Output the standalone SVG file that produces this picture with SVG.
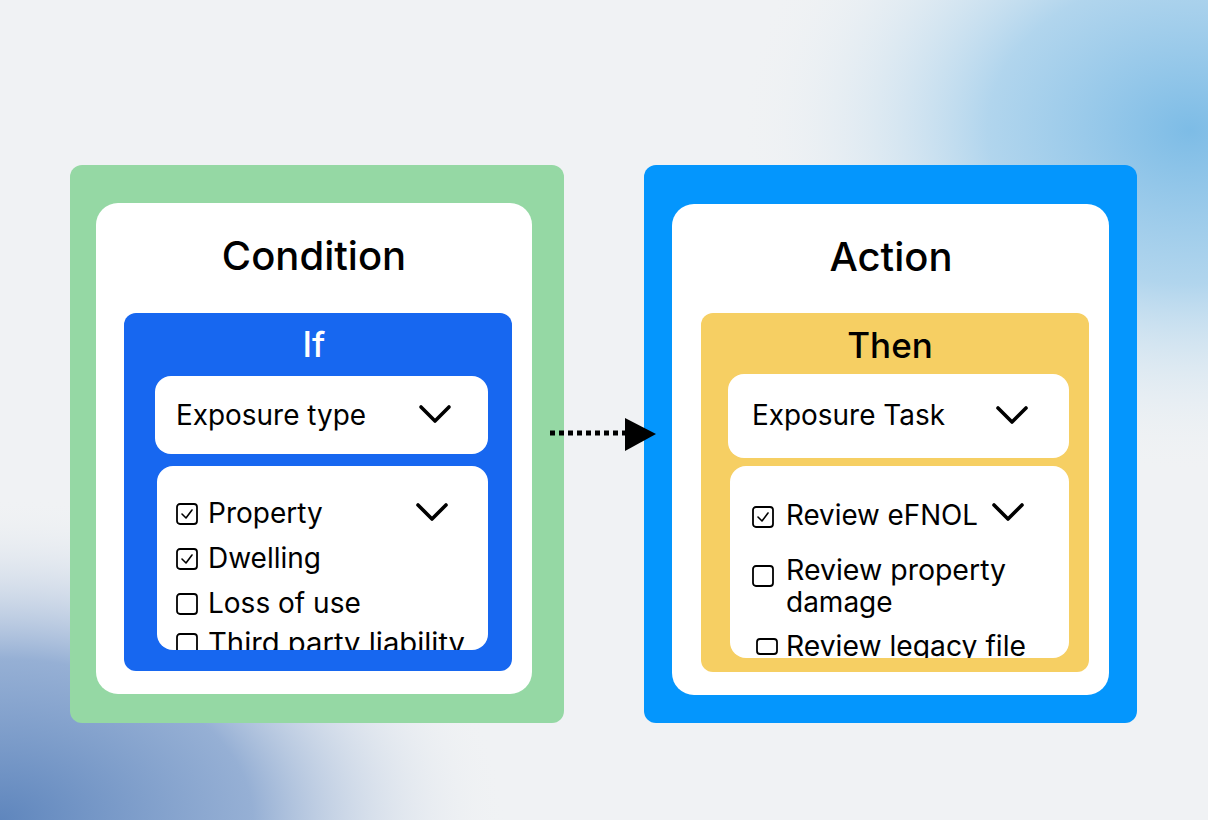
<svg xmlns="http://www.w3.org/2000/svg" width="1208" height="820" viewBox="0 0 1208 820">
<defs>
<radialGradient id="gTR" cx="1190" cy="130" r="360" gradientUnits="userSpaceOnUse" gradientTransform="translate(1190 130) scale(1.25 0.95) translate(-1190 -130)">
<stop offset="0" stop-color="#7dbce6"/>
<stop offset="0.45" stop-color="#a6d0ec" stop-opacity="0.85"/>
<stop offset="1" stop-color="#f0f2f4" stop-opacity="0"/>
</radialGradient>
<radialGradient id="gBL" cx="0" cy="820" r="460" gradientUnits="userSpaceOnUse" gradientTransform="translate(0 820) scale(1.1 0.7) translate(0 -820)">
<stop offset="0" stop-color="#5f86bd"/>
<stop offset="0.5" stop-color="#86a4cf" stop-opacity="0.85"/>
<stop offset="1" stop-color="#f0f2f4" stop-opacity="0"/>
</radialGradient>
<clipPath id="clipL"><rect x="157" y="466" width="331" height="184" rx="16"/></clipPath>
<clipPath id="clipR"><rect x="730" y="466" width="339" height="192" rx="16"/></clipPath>
<g id="chev"><path d="M-14,-7 L0,7 L14,-7" fill="none" stroke="#000" stroke-width="3.6" stroke-linecap="round" stroke-linejoin="round"/></g>
<g id="cbx"><rect x="0" y="0" width="20" height="20" rx="3" fill="none" stroke="#000" stroke-width="1.8"/></g>
<g id="cbxc"><rect x="0" y="0" width="20" height="20" rx="3" fill="none" stroke="#000" stroke-width="1.8"/><path d="M5,10 L9,14 L15,6" fill="none" stroke="#000" stroke-width="1.6" stroke-linecap="round" stroke-linejoin="round"/></g>
</defs>
<style>
text{font-family:Inter,"Liberation Sans",sans-serif;fill:#000}
.title{font-size:40px;font-weight:500;text-anchor:middle}
.sub{font-size:35px;font-weight:500;text-anchor:middle}
.field{font-size:28px;font-weight:400}
.item{font-size:28px;font-weight:400}
</style>
<rect width="1208" height="820" fill="#f0f2f4"/>
<rect width="1208" height="820" fill="url(#gTR)"/>
<rect width="1208" height="820" fill="url(#gBL)"/>

<g id="condition">
<rect x="70" y="165" width="494" height="558" rx="12" fill="#95d8a4"/>
<rect x="96" y="203" width="436" height="491" rx="22" fill="#ffffff"/>
<text class="title" x="314" y="270">Condition</text>
</g>
<g id="if">
<rect x="124" y="313" width="388" height="358" rx="12" fill="#1767f0"/>
<text class="sub" x="314" y="357" style="fill:#ffffff">If</text>
</g>
<g id="exposure-type">
<rect x="155" y="376" width="333" height="78" rx="16" fill="#ffffff"/>
<text class="field" x="176" y="425" textLength="190" lengthAdjust="spacingAndGlyphs">Exposure type</text>
<use href="#chev" x="435" y="414"/>
</g>
<g id="condition-list">
<rect x="157" y="466" width="331" height="184" rx="16" fill="#ffffff"/>
<g clip-path="url(#clipL)">
<use href="#cbxc" x="177" y="504"/>
<text class="item" x="208" y="523">Property</text>
<use href="#chev" x="432" y="512"/>
<use href="#cbxc" x="177" y="549"/>
<text class="item" x="208" y="568">Dwelling</text>
<use href="#cbx" x="177" y="594"/>
<text class="item" x="208" y="613">Loss of use</text>
<use href="#cbx" x="177" y="634"/>
<text class="item" x="208" y="653" textLength="257" lengthAdjust="spacingAndGlyphs">Third party liability</text>
</g>
</g>

<g id="action">
<rect x="644" y="165" width="493" height="558" rx="12" fill="#0496fd"/>
<rect x="672" y="204" width="437" height="491" rx="22" fill="#ffffff"/>
<text class="title" x="891" y="271">Action</text>
</g>
<g id="then">
<rect x="701" y="313" width="388" height="359" rx="12" fill="#f6cf63"/>
<text class="sub" x="890" y="358">Then</text>
</g>
<g id="exposure-task">
<rect x="728" y="374" width="341" height="84" rx="16" fill="#ffffff"/>
<text class="field" x="752" y="425" textLength="193" lengthAdjust="spacingAndGlyphs">Exposure Task</text>
<use href="#chev" x="1012" y="415"/>
</g>
<g id="action-list">
<rect x="730" y="466" width="339" height="192" rx="16" fill="#ffffff"/>
<g clip-path="url(#clipR)">
<use href="#cbxc" x="753" y="507"/>
<text class="item" x="786" y="525" textLength="192" lengthAdjust="spacingAndGlyphs">Review eFNOL</text>
<use href="#chev" x="1008" y="512"/>
<use href="#cbx" x="753" y="566"/>
<text class="item" x="786" y="580" textLength="220" lengthAdjust="spacingAndGlyphs">Review property</text>
<text class="item" x="786" y="612">damage</text>
<rect x="757" y="639" width="20" height="15" rx="3" fill="none" stroke="#000" stroke-width="1.8"/>
<text class="item" x="786" y="656" textLength="240" lengthAdjust="spacingAndGlyphs">Review legacy file</text>
</g>
</g>

<g id="connectors">
<line x1="550" y1="433" x2="626" y2="433" stroke="#000" stroke-width="5" stroke-dasharray="5 4"/>
<path d="M625,418 L656,434 L625,451 Z" fill="#000"/>
</g>
</svg>
